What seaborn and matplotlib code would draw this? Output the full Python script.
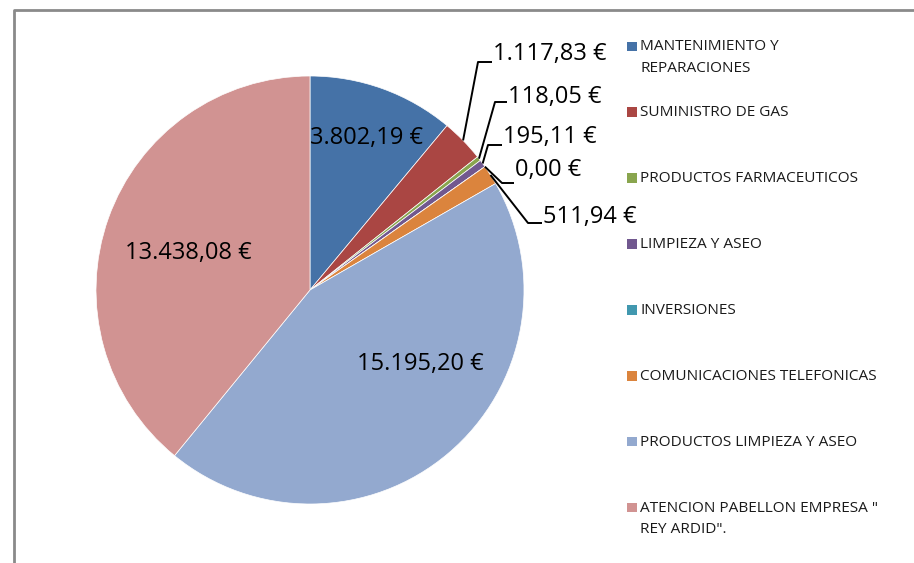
import matplotlib
matplotlib.use("Agg")
import matplotlib.pyplot as plt
import seaborn as sns
import numpy as np

# ---- data ----
categories = [
    "MANTENIMIENTO Y\nREPARACIONES",
    "SUMINISTRO DE GAS",
    "PRODUCTOS FARMACEUTICOS",
    "LIMPIEZA Y ASEO",
    "INVERSIONES",
    "COMUNICACIONES TELEFONICAS",
    "PRODUCTOS LIMPIEZA Y ASEO",
    "ATENCION PABELLON EMPRESA \"\nREY ARDID\".",
]
values = [3802.19, 1117.83, 118.05, 195.11, 0.00, 511.94, 15195.20, 13438.08]
value_labels = ["3.802,19 €", "1.117,83 €", "118,05 €", "195,11 €", "0,00 €",
                "511,94 €", "15.195,20 €", "13.438,08 €"]
colors = ["#4572A7", "#AA4643", "#89A54E", "#71588F", "#4198AF",
          "#DB843D", "#93A9CF", "#D19392"]

sns.set_theme(style="white")
plt.rcParams["font.family"] = ["Open Sans", "DejaVu Sans"]

W, H = 914, 563
fig = plt.figure(figsize=(W / 100, H / 100), dpi=100)
ax = fig.add_axes([0, 0, 1, 1])

def P(x, y):
    """pixel layout (top-left origin) -> data coords"""
    return x, H - y

cx, cy = P(310, 290)
R = 214
wedges, _ = ax.pie(values, colors=colors, startangle=90, counterclock=False,
                   center=(cx, cy), radius=R,
                   wedgeprops=dict(linewidth=0.5, edgecolor="white"))
ax.set_xlim(0, W)
ax.set_ylim(0, H)
ax.set_aspect("equal")
ax.axis("off")

label_fs = 17
# labels inside big slices
inside = {0: (366, 138), 6: (420, 364), 7: (188, 253)}
for i, (x, y) in inside.items():
    ax.text(*P(x, y), value_labels[i], ha="center", va="center",
            fontsize=label_fs, color="black")

# leader-line labels: (elbow, line end, text center y)
outside = {
    1: ((478, 62), (492, 62), 54),
    2: ((495, 102), (507, 102), 97),
    3: ((488, 145), (502, 145), 137),
    4: ((502, 183), (514, 183), 170),
    5: ((528, 223), (542, 223), 217),
}
for i, (elbow, end, ty) in outside.items():
    w = wedges[i]
    mid = np.deg2rad((w.theta1 + w.theta2) / 2)
    ax_, ay_ = cx + R * np.cos(mid), cy + R * np.sin(mid)
    ex, ey = P(*elbow)
    fx, fy = P(*end)
    ax.plot([ax_, ex, fx], [ay_, ey, fy], color="black", lw=1.4,
            solid_capstyle="butt", zorder=5)
    ax.text(*P(end[0] + 1, ty), value_labels[i], ha="left", va="center",
            fontsize=label_fs, color="black")

# legend (manual layout)
leg_y0, leg_step = 46, 65.9
for k, (lab, col) in enumerate(zip(categories, colors)):
    y = leg_y0 + k * leg_step
    sx, sy = P(627, y + 5)
    ax.add_patch(plt.Rectangle((sx, sy), 9.5, 9.5, facecolor=col,
                               edgecolor="none"))
    for j, line in enumerate(lab.split("\n")):
        ax.text(*P(640, y + 1 + j * 21), line, ha="left", va="center",
                fontsize=11.1, color="#1a1a1a")

# chart border (left and top visible)
bx0, by0 = P(14, 10)
ax.plot([bx0, bx0, W + 5], [-5, by0, by0], color="#8a8a8a", lw=2,
        clip_on=False, zorder=10)

fig.savefig("out.png", dpi=100)
